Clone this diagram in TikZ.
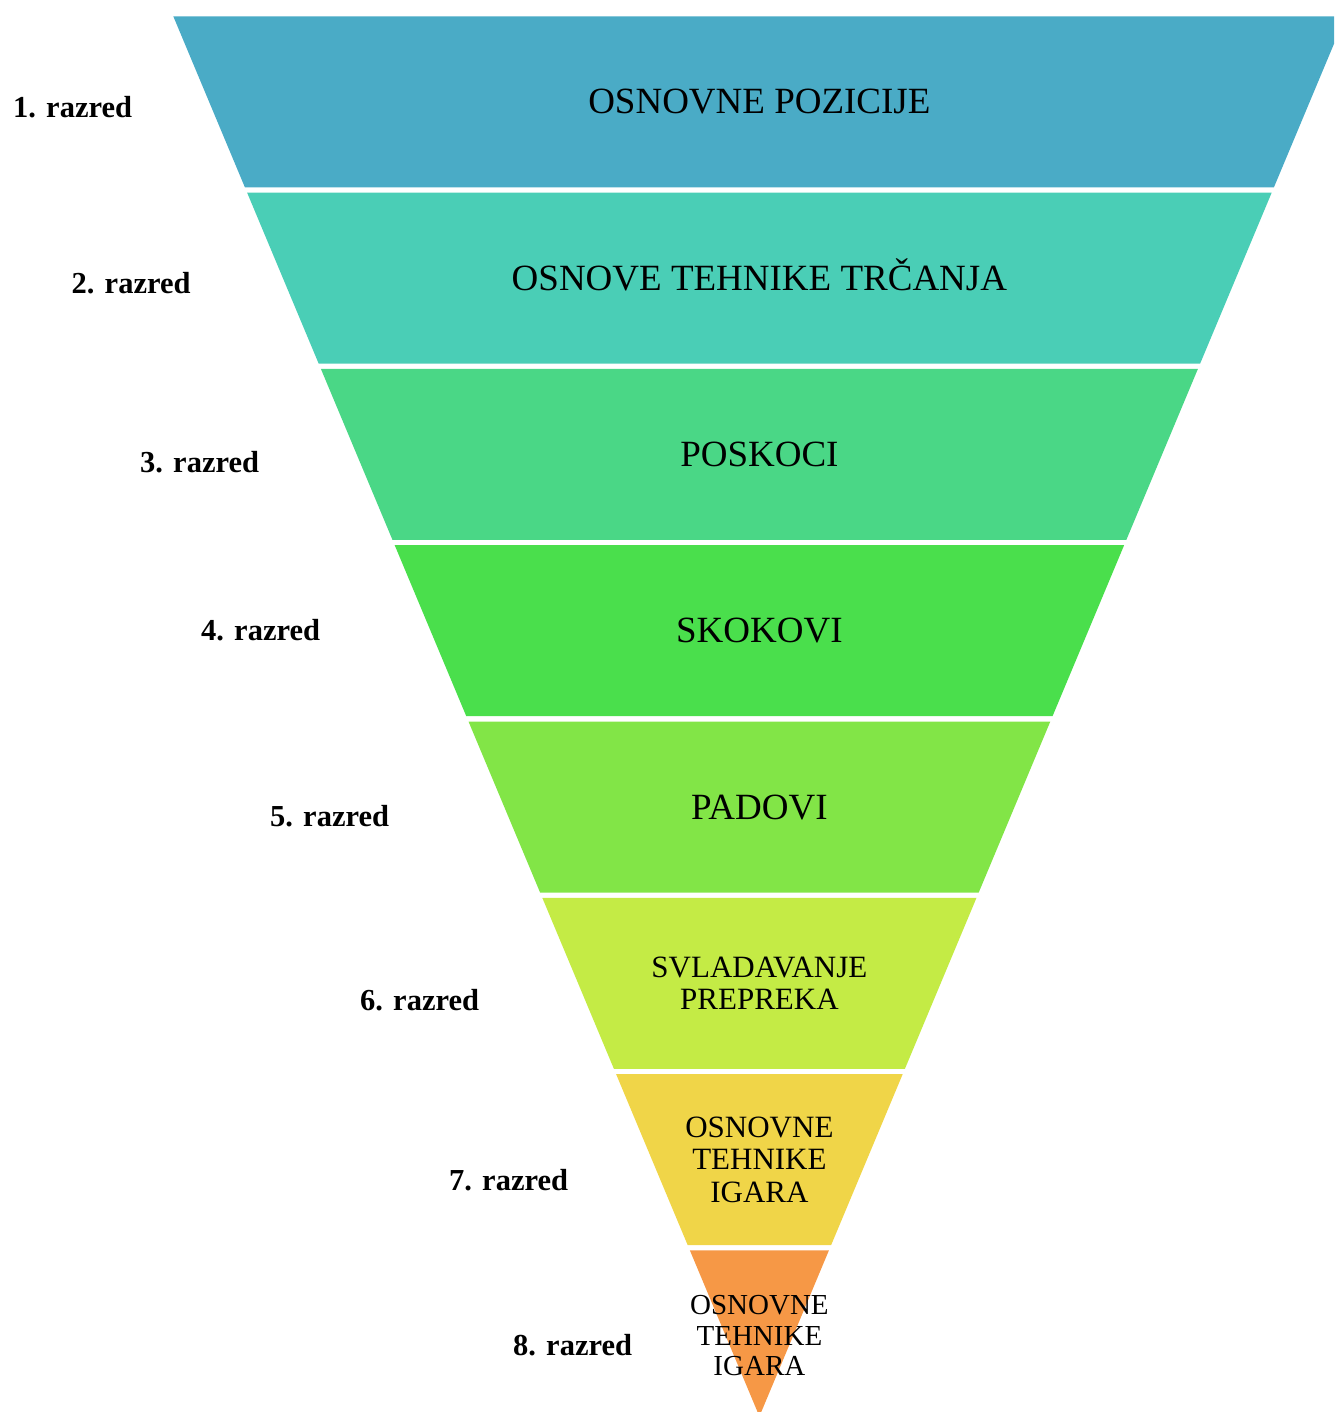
\documentclass[tikz,border=0pt]{standalone}
\usepackage{fontspec}
\setmainfont{Liberation Serif}
\definecolor{bandA}{HTML}{4AABC6}
\definecolor{bandB}{HTML}{4ACEB6}
\definecolor{bandC}{HTML}{4AD786}
\definecolor{bandD}{HTML}{4ADF4C}
\definecolor{bandE}{HTML}{82E547}
\definecolor{bandF}{HTML}{C4EB45}
\definecolor{bandG}{HTML}{F0D548}
\definecolor{bandH}{HTML}{F69846}
\tikzset{
  bigtext/.style={font=\fontsize{37}{40}\selectfont, anchor=base, inner sep=0pt},
  midtext/.style={font=\fontsize{31}{32.5}\selectfont, align=center, anchor=center, inner sep=0pt},
  smalltext/.style={font=\fontsize{29}{30.5}\selectfont, align=center, anchor=center, inner sep=0pt},
  lbl/.style={font=\bfseries\fontsize{30.5}{33}\selectfont, anchor=base west, inner sep=0pt}
}
\begin{document}
\begin{tikzpicture}[x=1pt,y=-1pt]
\useasboundingbox (0,0) rectangle (1334,1412);
\clip (0,0) rectangle (1334,1412);
% bands
\foreach \k/\c in {0/bandA,1/bandB,2/bandC,3/bandD,4/bandE,5/bandF,6/bandG} {
  \pgfmathsetmacro\t{16.3+176.3*\k}
  \pgfmathsetmacro\b{\t+171}
  \pgfmathsetmacro\lt{173.3+73.8*\k}
  \pgfmathsetmacro\lb{\lt+71.58}
  \pgfmathsetmacro\rt{1518.8-\lt}
  \pgfmathsetmacro\rb{1518.8-\lb}
  \fill[\c] (\lt,\t) -- (\rt,\t) -- (\rb,\b) -- (\lb,\b) -- cycle;
}
\pgfmathsetmacro\lt{173.3+73.8*7}
\pgfmathsetmacro\rt{1518.8-\lt}
\fill[bandH] (\lt,1250.4) -- (\rt,1250.4) -- (759.4,1416.4) -- cycle;
% band texts
\node[bigtext] (t1) at (759.4,114.0) {OSNOVNE POZICIJE};
\node[bigtext] (t2) at (759.4,290.3) {OSNOVE TEHNIKE TRČANJA};
\node[bigtext] (t3) at (759.4,466.6) {POSKOCI};
\node[bigtext] (t4) at (759.4,642.9) {SKOKOVI};
\node[bigtext] (t5) at (759.4,819.2) {PADOVI};
\node[midtext] (t6) at (759.4,983.3) {SVLADAVANJE\\PREPREKA};
\node[midtext] (t7) at (759.4,1159.6) {OSNOVNE\\TEHNIKE\\IGARA};
\node[smalltext] (t8) at (759.4,1335.9) {OSNOVNE\\TEHNIKE\\IGARA};
% labels
\node[lbl] (l1) at (13,118) {1. razred};
\node[lbl] (l2) at (71.5,293.5) {2. razred};
\node[lbl] (l3) at (140,472) {3. razred};
\node[lbl] (l4) at (201,640) {4. razred};
\node[lbl] (l5) at (270,826) {5. razred};
\node[lbl] (l6) at (360,1010) {6. razred};
\node[lbl] (l7) at (449,1190) {7. razred};
\node[lbl] (l8) at (513,1355) {8. razred};
\end{tikzpicture}
\end{document}
